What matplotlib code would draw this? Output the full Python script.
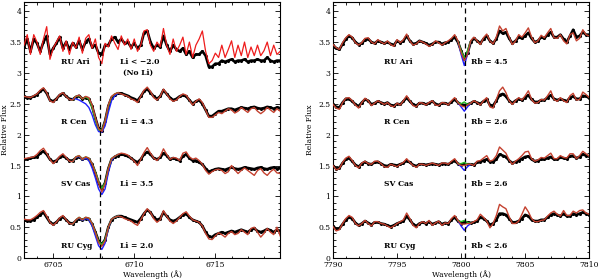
import matplotlib.pyplot as plt
from matplotlib.ticker import MultipleLocator, FormatStrFormatter
import numpy as np

# ---- wavelength grids (Angstrom) ----
wl_li = np.round(np.arange(6703.2, 6719.01, 0.2), 2)   # 80 points
wl_rb = np.round(np.arange(7790.0, 7810.01, 0.25), 2)  # 81 points
li_line = 6707.9
rb_line = 7800.27

# ---- Li 6708 region : observed (black) and synthetic (red) ----
ruari_li_obs = [3.42, 3.55, 3.35, 3.55, 3.48, 3.35, 3.50, 3.60, 3.30, 3.40,
                3.48, 3.58, 3.40, 3.50, 3.38, 3.48, 3.42, 3.52, 3.38, 3.50,
                3.55, 3.42, 3.45, 3.32, 3.30, 3.45, 3.45, 3.55, 3.58, 3.50,
                3.55, 3.48, 3.50, 3.42, 3.48, 3.40, 3.45, 3.65, 3.68, 3.50,
                3.40, 3.45, 3.42, 3.60, 3.45, 3.35, 3.45, 3.38, 3.35, 3.40,
                3.30, 3.35, 3.25, 3.30, 3.30, 3.35, 3.28, 3.10, 3.10, 3.15,
                3.15, 3.20, 3.18, 3.20, 3.22, 3.18, 3.20, 3.20, 3.22, 3.18,
                3.20, 3.20, 3.22, 3.20, 3.20, 3.25, 3.20, 3.18, 3.20, 3.20]
ruari_li_syn = [3.45, 3.62, 3.30, 3.62, 3.50, 3.30, 3.55, 3.75, 3.22, 3.40,
                3.50, 3.60, 3.35, 3.52, 3.30, 3.50, 3.40, 3.58, 3.32, 3.56,
                3.62, 3.40, 3.55, 3.25, 3.15, 3.48, 3.42, 3.60, 3.48, 3.38,
                3.60, 3.45, 3.55, 3.38, 3.55, 3.35, 3.45, 3.68, 3.70, 3.45,
                3.35, 3.50, 3.42, 3.72, 3.45, 3.30, 3.55, 3.35, 3.45, 3.58,
                3.30, 3.50, 3.25, 3.45, 3.55, 3.68, 3.35, 3.15, 3.20, 3.32,
                3.25, 3.45, 3.25, 3.38, 3.52, 3.25, 3.45, 3.28, 3.50, 3.25,
                3.42, 3.28, 3.45, 3.28, 3.36, 3.50, 3.28, 3.45, 3.30, 3.35]

rcen_li_obs = [2.62, 2.60, 2.60, 2.62, 2.65, 2.70, 2.74, 2.67, 2.56, 2.54,
               2.58, 2.64, 2.67, 2.62, 2.58, 2.57, 2.61, 2.63, 2.58, 2.60,
               2.58, 2.46, 2.27, 2.10, 2.06, 2.22, 2.46, 2.60, 2.64, 2.67,
               2.67, 2.65, 2.63, 2.60, 2.58, 2.55, 2.62, 2.70, 2.74, 2.68,
               2.62, 2.58, 2.62, 2.72, 2.66, 2.60, 2.56, 2.58, 2.62, 2.64,
               2.62, 2.56, 2.50, 2.54, 2.56, 2.50, 2.40, 2.30, 2.30, 2.34,
               2.38, 2.38, 2.40, 2.42, 2.42, 2.40, 2.42, 2.44, 2.43, 2.42,
               2.44, 2.45, 2.43, 2.42, 2.43, 2.45, 2.44, 2.42, 2.44, 2.43]
rcen_li_syn = [2.62, 2.61, 2.60, 2.63, 2.66, 2.72, 2.76, 2.68, 2.55, 2.52,
               2.58, 2.65, 2.68, 2.62, 2.57, 2.56, 2.62, 2.64, 2.58, 2.62,
               2.60, 2.48, 2.28, 2.10, 2.05, 2.22, 2.48, 2.62, 2.66, 2.68,
               2.66, 2.64, 2.62, 2.58, 2.56, 2.52, 2.62, 2.72, 2.77, 2.70,
               2.60, 2.56, 2.62, 2.74, 2.66, 2.58, 2.54, 2.56, 2.62, 2.66,
               2.64, 2.56, 2.48, 2.54, 2.58, 2.52, 2.40, 2.28, 2.28, 2.32,
               2.36, 2.34, 2.38, 2.42, 2.40, 2.35, 2.38, 2.44, 2.40, 2.36,
               2.42, 2.44, 2.38, 2.34, 2.38, 2.44, 2.40, 2.36, 2.42, 2.38]

svcas_li_obs = [1.60, 1.60, 1.62, 1.63, 1.64, 1.70, 1.73, 1.68, 1.60, 1.56,
                1.58, 1.63, 1.66, 1.62, 1.58, 1.58, 1.62, 1.64, 1.60, 1.62,
                1.60, 1.52, 1.38, 1.22, 1.12, 1.22, 1.45, 1.60, 1.64, 1.66,
                1.68, 1.67, 1.65, 1.62, 1.58, 1.55, 1.60, 1.68, 1.72, 1.68,
                1.62, 1.60, 1.63, 1.70, 1.66, 1.60, 1.62, 1.60, 1.58, 1.65,
                1.68, 1.62, 1.58, 1.58, 1.55, 1.52, 1.45, 1.40, 1.42, 1.44,
                1.45, 1.44, 1.43, 1.45, 1.47, 1.45, 1.44, 1.45, 1.47, 1.46,
                1.45, 1.44, 1.46, 1.47, 1.45, 1.44, 1.46, 1.47, 1.45, 1.46]
svcas_li_syn = [1.61, 1.62, 1.63, 1.64, 1.68, 1.74, 1.78, 1.70, 1.60, 1.53,
                1.58, 1.65, 1.69, 1.63, 1.57, 1.56, 1.64, 1.66, 1.60, 1.64,
                1.62, 1.53, 1.38, 1.22, 1.07, 1.20, 1.45, 1.61, 1.65, 1.68,
                1.70, 1.69, 1.67, 1.62, 1.57, 1.50, 1.60, 1.71, 1.79, 1.70,
                1.62, 1.58, 1.65, 1.77, 1.68, 1.60, 1.63, 1.62, 1.58, 1.70,
                1.72, 1.64, 1.60, 1.62, 1.58, 1.52, 1.42, 1.36, 1.40, 1.43,
                1.44, 1.42, 1.37, 1.40, 1.50, 1.43, 1.37, 1.42, 1.46, 1.42,
                1.38, 1.34, 1.42, 1.45, 1.38, 1.34, 1.40, 1.44, 1.38, 1.37]

rucyg_li_obs = [0.62, 0.60, 0.60, 0.62, 0.66, 0.70, 0.74, 0.66, 0.58, 0.55,
                0.58, 0.64, 0.67, 0.62, 0.57, 0.56, 0.60, 0.64, 0.62, 0.64,
                0.63, 0.55, 0.42, 0.28, 0.22, 0.30, 0.50, 0.62, 0.66, 0.68,
                0.68, 0.66, 0.64, 0.62, 0.60, 0.58, 0.64, 0.72, 0.78, 0.74,
                0.66, 0.62, 0.64, 0.74, 0.68, 0.62, 0.60, 0.62, 0.66, 0.70,
                0.72, 0.66, 0.62, 0.60, 0.58, 0.52, 0.42, 0.35, 0.34, 0.38,
                0.40, 0.42, 0.40, 0.42, 0.44, 0.42, 0.44, 0.46, 0.44, 0.42,
                0.46, 0.48, 0.44, 0.42, 0.44, 0.47, 0.45, 0.42, 0.46, 0.44]
rucyg_li_syn = [0.63, 0.62, 0.62, 0.65, 0.69, 0.74, 0.77, 0.68, 0.58, 0.53,
                0.58, 0.65, 0.69, 0.62, 0.56, 0.55, 0.62, 0.66, 0.62, 0.66,
                0.65, 0.56, 0.42, 0.25, 0.19, 0.28, 0.50, 0.63, 0.66, 0.68,
                0.67, 0.64, 0.62, 0.60, 0.56, 0.53, 0.62, 0.72, 0.80, 0.74,
                0.64, 0.58, 0.62, 0.77, 0.68, 0.60, 0.56, 0.60, 0.66, 0.72,
                0.75, 0.68, 0.62, 0.60, 0.58, 0.52, 0.40, 0.31, 0.30, 0.36,
                0.41, 0.38, 0.34, 0.40, 0.43, 0.38, 0.40, 0.46, 0.42, 0.38,
                0.48, 0.50, 0.42, 0.34, 0.40, 0.48, 0.42, 0.38, 0.50, 0.36]

# alternative Li abundances around the line core (grid points 15..29)
rcen_li_blue = [2.58, 2.58, 2.56, 2.53, 2.50, 2.44, 2.32, 2.16, 2.05, 2.04, 2.14, 2.36, 2.55, 2.63, 2.67]
rcen_li_green = [2.56, 2.62, 2.63, 2.58, 2.61, 2.58, 2.44, 2.24, 2.08, 2.07, 2.22, 2.46, 2.61, 2.66, 2.68]
svcas_li_blue = [1.56, 1.63, 1.65, 1.59, 1.62, 1.58, 1.46, 1.30, 1.12, 1.03, 1.12, 1.38, 1.58, 1.65, 1.68]
svcas_li_green = [1.56, 1.64, 1.66, 1.60, 1.64, 1.62, 1.53, 1.40, 1.24, 1.13, 1.22, 1.45, 1.61, 1.65, 1.68]
rucyg_li_blue = [0.55, 0.62, 0.65, 0.61, 0.64, 0.62, 0.52, 0.36, 0.20, 0.14, 0.24, 0.48, 0.63, 0.66, 0.68]
rucyg_li_green = [0.55, 0.62, 0.66, 0.62, 0.66, 0.65, 0.56, 0.42, 0.27, 0.22, 0.30, 0.50, 0.63, 0.66, 0.68]

# ---- Rb 7800 region ----
ruari_rb_obs = [3.45, 3.40, 3.38, 3.47, 3.55, 3.60, 3.57, 3.50, 3.46, 3.48,
                3.54, 3.55, 3.50, 3.48, 3.52, 3.50, 3.48, 3.50, 3.47, 3.45,
                3.52, 3.49, 3.52, 3.60, 3.52, 3.47, 3.48, 3.52, 3.50, 3.48,
                3.45, 3.47, 3.50, 3.50, 3.47, 3.49, 3.50, 3.54, 3.58, 3.50,
                3.36, 3.22, 3.32, 3.50, 3.56, 3.52, 3.48, 3.55, 3.60, 3.52,
                3.48, 3.55, 3.68, 3.64, 3.66, 3.56, 3.48, 3.52, 3.58, 3.56,
                3.60, 3.65, 3.56, 3.50, 3.52, 3.58, 3.56, 3.62, 3.66, 3.58,
                3.58, 3.62, 3.55, 3.50, 3.60, 3.70, 3.58, 3.60, 3.66, 3.62, 3.62]
ruari_rb_syn = [3.46, 3.41, 3.38, 3.49, 3.57, 3.62, 3.58, 3.49, 3.45, 3.49,
                3.56, 3.57, 3.50, 3.47, 3.54, 3.50, 3.47, 3.52, 3.46, 3.43,
                3.54, 3.49, 3.54, 3.63, 3.52, 3.45, 3.47, 3.52, 3.50, 3.47,
                3.43, 3.46, 3.52, 3.49, 3.45, 3.49, 3.52, 3.56, 3.62, 3.52,
                3.33, 3.20, 3.30, 3.52, 3.58, 3.52, 3.46, 3.57, 3.63, 3.52,
                3.47, 3.58, 3.76, 3.68, 3.72, 3.58, 3.46, 3.52, 3.62, 3.58,
                3.65, 3.73, 3.58, 3.49, 3.52, 3.61, 3.57, 3.65, 3.72, 3.57,
                3.56, 3.62, 3.52, 3.47, 3.62, 3.65, 3.52, 3.56, 3.70, 3.62, 3.60]

rcen_rb_obs = [2.49, 2.45, 2.44, 2.52, 2.58, 2.58, 2.54, 2.49, 2.46, 2.52,
               2.57, 2.55, 2.49, 2.51, 2.54, 2.52, 2.50, 2.52, 2.48, 2.47,
               2.50, 2.49, 2.54, 2.60, 2.54, 2.49, 2.47, 2.51, 2.51, 2.49,
               2.51, 2.54, 2.50, 2.48, 2.51, 2.51, 2.49, 2.53, 2.57, 2.52,
               2.49, 2.48, 2.49, 2.51, 2.54, 2.52, 2.50, 2.54, 2.57, 2.48,
               2.47, 2.55, 2.64, 2.66, 2.62, 2.55, 2.51, 2.55, 2.58, 2.56,
               2.60, 2.64, 2.57, 2.53, 2.53, 2.56, 2.56, 2.60, 2.64, 2.58,
               2.56, 2.58, 2.56, 2.54, 2.60, 2.62, 2.58, 2.58, 2.63, 2.62, 2.60]
rcen_rb_syn = [2.49, 2.43, 2.41, 2.52, 2.59, 2.60, 2.55, 2.48, 2.43, 2.52,
               2.59, 2.55, 2.47, 2.51, 2.55, 2.52, 2.49, 2.52, 2.47, 2.45,
               2.51, 2.48, 2.55, 2.63, 2.55, 2.47, 2.45, 2.52, 2.51, 2.48,
               2.52, 2.55, 2.48, 2.47, 2.52, 2.51, 2.48, 2.55, 2.60, 2.52,
               2.47, 2.45, 2.48, 2.51, 2.55, 2.52, 2.48, 2.55, 2.60, 2.45,
               2.43, 2.57, 2.71, 2.77, 2.68, 2.55, 2.49, 2.55, 2.60, 2.56,
               2.63, 2.71, 2.57, 2.51, 2.52, 2.57, 2.56, 2.63, 2.71, 2.57,
               2.54, 2.60, 2.55, 2.52, 2.63, 2.67, 2.56, 2.57, 2.69, 2.65, 2.60]

svcas_rb_obs = [1.50, 1.45, 1.46, 1.54, 1.60, 1.62, 1.57, 1.51, 1.48, 1.53,
                1.56, 1.53, 1.52, 1.55, 1.56, 1.53, 1.50, 1.49, 1.52, 1.51,
                1.50, 1.52, 1.54, 1.58, 1.55, 1.51, 1.49, 1.52, 1.52, 1.51,
                1.52, 1.53, 1.52, 1.51, 1.53, 1.53, 1.52, 1.55, 1.58, 1.53,
                1.51, 1.52, 1.52, 1.52, 1.51, 1.55, 1.56, 1.58, 1.60, 1.56,
                1.56, 1.60, 1.68, 1.66, 1.64, 1.58, 1.54, 1.56, 1.58, 1.61,
                1.64, 1.65, 1.60, 1.57, 1.58, 1.60, 1.60, 1.62, 1.64, 1.60,
                1.60, 1.63, 1.62, 1.61, 1.65, 1.66, 1.62, 1.64, 1.68, 1.66, 1.65]
svcas_rb_syn = [1.50, 1.43, 1.45, 1.55, 1.62, 1.65, 1.58, 1.50, 1.46, 1.54,
                1.57, 1.53, 1.52, 1.57, 1.57, 1.53, 1.48, 1.47, 1.52, 1.50,
                1.48, 1.52, 1.55, 1.61, 1.55, 1.50, 1.47, 1.52, 1.52, 1.50,
                1.52, 1.54, 1.52, 1.50, 1.54, 1.54, 1.52, 1.57, 1.61, 1.53,
                1.50, 1.50, 1.52, 1.52, 1.50, 1.57, 1.58, 1.62, 1.66, 1.57,
                1.59, 1.66, 1.80, 1.75, 1.70, 1.59, 1.52, 1.57, 1.61, 1.66,
                1.72, 1.73, 1.61, 1.57, 1.59, 1.63, 1.62, 1.66, 1.70, 1.61,
                1.61, 1.66, 1.63, 1.62, 1.69, 1.69, 1.61, 1.66, 1.73, 1.69, 1.65]

rucyg_rb_obs = [0.52, 0.47, 0.48, 0.55, 0.62, 0.66, 0.64, 0.57, 0.53, 0.56,
                0.60, 0.57, 0.54, 0.58, 0.58, 0.56, 0.55, 0.53, 0.51, 0.53,
                0.56, 0.58, 0.60, 0.68, 0.62, 0.55, 0.52, 0.56, 0.58, 0.56,
                0.59, 0.55, 0.57, 0.59, 0.55, 0.57, 0.56, 0.62, 0.66, 0.60,
                0.56, 0.58, 0.58, 0.57, 0.58, 0.60, 0.66, 0.64, 0.60, 0.54,
                0.56, 0.62, 0.72, 0.72, 0.70, 0.64, 0.58, 0.58, 0.60, 0.64,
                0.70, 0.68, 0.62, 0.60, 0.60, 0.62, 0.62, 0.66, 0.70, 0.72,
                0.70, 0.68, 0.72, 0.68, 0.68, 0.72, 0.70, 0.72, 0.74, 0.72, 0.70]
rucyg_rb_syn = [0.51, 0.44, 0.46, 0.56, 0.64, 0.69, 0.66, 0.56, 0.52, 0.56,
                0.61, 0.56, 0.52, 0.59, 0.59, 0.56, 0.55, 0.52, 0.49, 0.52,
                0.56, 0.59, 0.62, 0.73, 0.64, 0.53, 0.49, 0.56, 0.59, 0.56,
                0.61, 0.53, 0.57, 0.60, 0.53, 0.57, 0.56, 0.64, 0.69, 0.61,
                0.55, 0.55, 0.56, 0.56, 0.59, 0.62, 0.71, 0.66, 0.60, 0.49,
                0.56, 0.69, 0.87, 0.83, 0.80, 0.67, 0.56, 0.56, 0.60, 0.71,
                0.83, 0.75, 0.64, 0.59, 0.59, 0.61, 0.62, 0.68, 0.73, 0.76,
                0.71, 0.68, 0.77, 0.69, 0.69, 0.76, 0.73, 0.77, 0.78, 0.73, 0.71]

# alternative Rb abundances around the line core (grid points 39..43)
ruari_rb_blue = [3.52, 3.30, 3.12, 3.30, 3.52]
ruari_rb_green = [3.52, 3.36, 3.25, 3.36, 3.52]
rcen_rb_blue = [2.52, 2.45, 2.38, 2.45, 2.51]
rcen_rb_green = [2.52, 2.50, 2.53, 2.49, 2.51]
svcas_rb_blue = [1.53, 1.48, 1.42, 1.48, 1.52]
svcas_rb_green = [1.53, 1.53, 1.55, 1.52, 1.52]
rucyg_rb_blue = [0.61, 0.52, 0.45, 0.52, 0.56]
rucyg_rb_green = [0.61, 0.59, 0.61, 0.58, 0.56]

# ---- labels ----
stars = ["RU Ari", "R Cen", "SV Cas", "RU Cyg"]
label_y = [3.17, 2.21, 1.2, 0.19]
li_text = ["Li < \u22122.0", "Li = 4.3", "Li = 3.5", "Li = 2.0"]
rb_text = ["Rb = 4.5", "Rb = 2.6", "Rb = 2.6", "Rb < 2.6"]

font = "DejaVu Serif"
fs = 5.5
brick = "#c4412f"

fig = plt.figure(figsize=(6.0, 2.79), dpi=100)
ax1 = fig.add_axes([0.040, 0.075, 0.427, 0.918])
ax2 = fig.add_axes([0.555, 0.075, 0.427, 0.918])


def style_axes(ax, xmaj):
    ax.xaxis.set_major_locator(MultipleLocator(xmaj))
    ax.xaxis.set_minor_locator(MultipleLocator(1))
    ax.yaxis.set_major_locator(MultipleLocator(0.5))
    ax.yaxis.set_minor_locator(MultipleLocator(0.1))
    ax.yaxis.set_major_formatter(FormatStrFormatter('%g'))
    ax.tick_params(which='both', direction='in', top=True, right=True,
                   labelsize=fs, width=0.6, pad=2)
    ax.tick_params(which='major', length=3.5)
    ax.tick_params(which='minor', length=1.8)
    for lab in ax.get_xticklabels() + ax.get_yticklabels():
        lab.set_family(font)
    for s in ax.spines.values():
        s.set_linewidth(0.8)
    ax.set_ylim(0, 4.15)
    ax.set_ylabel("Relative Flux", fontsize=fs, family=font, labelpad=2)
    ax.set_xlabel("Wavelength (\u00c5)", fontsize=fs, family=font, labelpad=1)


# Left panel: Li
obs = [ruari_li_obs, rcen_li_obs, svcas_li_obs, rucyg_li_obs]
syn = [ruari_li_syn, rcen_li_syn, svcas_li_syn, rucyg_li_syn]
blues = [rcen_li_blue, svcas_li_blue, rucyg_li_blue]
greens = [rcen_li_green, svcas_li_green, rucyg_li_green]
wl_core = wl_li[15:30]
for k in range(4):
    ax1.plot(wl_li, obs[k], color='black', lw=1.9, marker='o', ms=1.2, zorder=2)
for b, g in zip(blues, greens):
    ax1.plot(wl_core, b, color='#2020ff', lw=1.0, zorder=3)
    ax1.plot(wl_core, g, color='#22bb22', lw=1.0, zorder=3)
ax1.plot(wl_li, syn[0], color='#ee1c1c', lw=0.9, zorder=4)
for k in range(1, 4):
    ax1.plot(wl_li, syn[k], color=brick, lw=1.0, zorder=4)
ax1.axvline(li_line, color='black', lw=0.9, ls=(0, (4, 3)), zorder=5)
ax1.set_xlim(6703.2, 6719.0)
style_axes(ax1, 5)
ax1.yaxis.set_label_coords(-0.058, 0.5)
for k in range(4):
    ax1.text(6705.5, label_y[k], stars[k], fontsize=fs, family=font,
             weight='bold', va='center')
    ax1.text(6709.1, label_y[k], li_text[k], fontsize=fs, family=font,
             weight='bold', va='center')
ax1.text(6709.3, 3.0, "(No Li)", fontsize=fs, family=font, weight='bold', va='center')

# Right panel: Rb
obs = [ruari_rb_obs, rcen_rb_obs, svcas_rb_obs, rucyg_rb_obs]
syn = [ruari_rb_syn, rcen_rb_syn, svcas_rb_syn, rucyg_rb_syn]
blues = [ruari_rb_blue, rcen_rb_blue, svcas_rb_blue, rucyg_rb_blue]
greens = [ruari_rb_green, rcen_rb_green, svcas_rb_green, rucyg_rb_green]
wl_core = wl_rb[39:44]
for k in range(4):
    ax2.plot(wl_rb, obs[k], color='black', lw=1.9, marker='o', ms=1.2, zorder=2)
    ax2.plot(wl_core, blues[k], color='#2020ff', lw=1.0, zorder=3)
    ax2.plot(wl_core, greens[k], color='#22bb22', lw=1.0, zorder=3)
    ax2.plot(wl_rb, syn[k], color=brick, lw=1.0, zorder=4)
ax2.axvline(rb_line, color='black', lw=0.9, ls=(0, (4, 3)), zorder=5)
ax2.set_xlim(7790, 7810)
style_axes(ax2, 5)
ax2.yaxis.set_label_coords(-0.075, 0.5)
for k in range(4):
    ax2.text(7794.0, label_y[k], stars[k], fontsize=fs, family=font,
             weight='bold', va='center')
    ax2.text(7800.75, label_y[k], rb_text[k], fontsize=fs, family=font,
             weight='bold', va='center')

plt.savefig("out.png", dpi=100)
